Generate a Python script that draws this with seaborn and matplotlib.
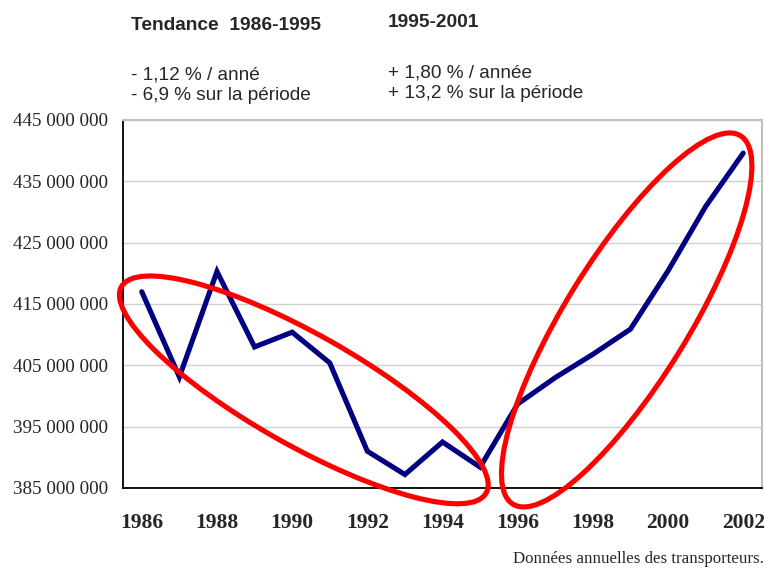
import matplotlib
matplotlib.use("Agg")
import matplotlib.pyplot as plt
import matplotlib.transforms as mtransforms
from matplotlib.patches import Ellipse
from matplotlib.ticker import FuncFormatter, FixedLocator
import seaborn as sns
import pandas as pd

# Annual passenger traffic (millions)
years = list(range(1986, 2003))
passengers_m = [417.0, 403.1, 420.3, 408.0, 410.4, 405.4, 391.0, 387.2, 392.5,
                388.4, 398.7, 403.0, 406.8, 410.9, 420.4, 430.9, 439.6]
year_labels = [str(y) for y in range(1986, 2003, 2)]
y_ticks = [385e6, 395e6, 405e6, 415e6, 425e6, 435e6, 445e6]

trend_left = ["Tendance  1986-1995", "- 1,12 % / anné", "- 6,9 % sur la période"]
trend_right = ["1995-2001", "+ 1,80 % / année", "+ 13,2 % sur la période"]
source_note = "Données annuelles des transporteurs."

df = pd.DataFrame({"annee": years, "voyageurs": [v * 1e6 for v in passengers_m]})

sns.set_style("white")
W, H = 765, 568
fig = plt.figure(figsize=(W / 100, H / 100), dpi=100)
ax = fig.add_axes([123 / W, 1 - 488 / H, (762 - 123) / W, (488 - 120) / H])

sns.lineplot(data=df, x="annee", y="voyageurs", ax=ax, color="#000080",
             linewidth=3.7, solid_joinstyle="miter", zorder=3)

ax.set_xlim(1985.5, 2002.5)
ax.set_ylim(385e6, 445e6)
ax.set_xlabel("")
ax.set_ylabel("")

# y axis
ax.yaxis.set_major_locator(FixedLocator(y_ticks))
ax.yaxis.set_major_formatter(FuncFormatter(lambda v, p: f"{int(round(v)):,}".replace(",", " ")))
ax.grid(axis="y", color="#D0D0D0", linewidth=1.0, zorder=0)
ax.grid(axis="x", visible=False)

# x axis: labels on even years, tick marks between categories
ax.xaxis.set_major_locator(FixedLocator([int(s) for s in year_labels]))
ax.set_xticklabels(year_labels)
ax.xaxis.set_minor_locator(FixedLocator([y - 0.5 for y in years] + [years[-1] + 0.5]))
ax.tick_params(axis="x", which="major", length=0, pad=18)
ax.tick_params(axis="x", which="minor", length=5, width=1.2, color="black", direction="out")
ax.tick_params(axis="y", which="major", length=5, width=1.2, color="black", direction="out", pad=6)
for lab in ax.get_xticklabels():
    lab.set_fontfamily("Liberation Serif")
    lab.set_fontweight("bold")
    lab.set_fontsize(15.5)
for lab in ax.get_yticklabels():
    lab.set_fontfamily("Liberation Serif")
    lab.set_fontsize(13.8)

for side in ("left", "bottom"):
    ax.spines[side].set_color("black")
    ax.spines[side].set_linewidth(1.3)
for side in ("top", "right"):
    ax.spines[side].set_color("#C0C0C0")
    ax.spines[side].set_linewidth(1.5)

# Red ellipses highlighting the two trend periods (size in inches, centred in data)
def ring(cx, cy, w, h, angle):
    trans = fig.dpi_scale_trans + mtransforms.ScaledTranslation(cx, cy, ax.transData)
    e = Ellipse((0, 0), w, h, angle=angle, transform=trans, fill=False,
                edgecolor="#FF0000", linewidth=3.7, clip_on=False, zorder=4)
    ax.add_patch(e)

ring(1990.31, 401.0e6, 4.19, 1.11, -29.5)
ring(1998.90, 412.4e6, 4.33, 1.23, 58.3)

# Trend annotations
def ftext(x, y, s, ha="left", **kw):
    fig.text(x / W, 1 - y / H, s, va="baseline", ha=ha, **kw)

ftext(131, 30, trend_left[0], family="Liberation Sans", fontweight="bold", fontsize=13.8)
ftext(131, 79, trend_left[1], family="Liberation Sans", fontsize=13.7)
ftext(131, 100, trend_left[2], family="Liberation Sans", fontsize=13.7)
ftext(388, 27, trend_right[0], family="Liberation Sans", fontweight="bold", fontsize=13.8)
ftext(388, 77, trend_right[1], family="Liberation Sans", fontsize=13.7)
ftext(388, 98, trend_right[2], family="Liberation Sans", fontsize=13.7)

ftext(764, 563, source_note, ha="right", family="Liberation Serif", fontsize=12.2)

fig.savefig("out.png", dpi=100)
